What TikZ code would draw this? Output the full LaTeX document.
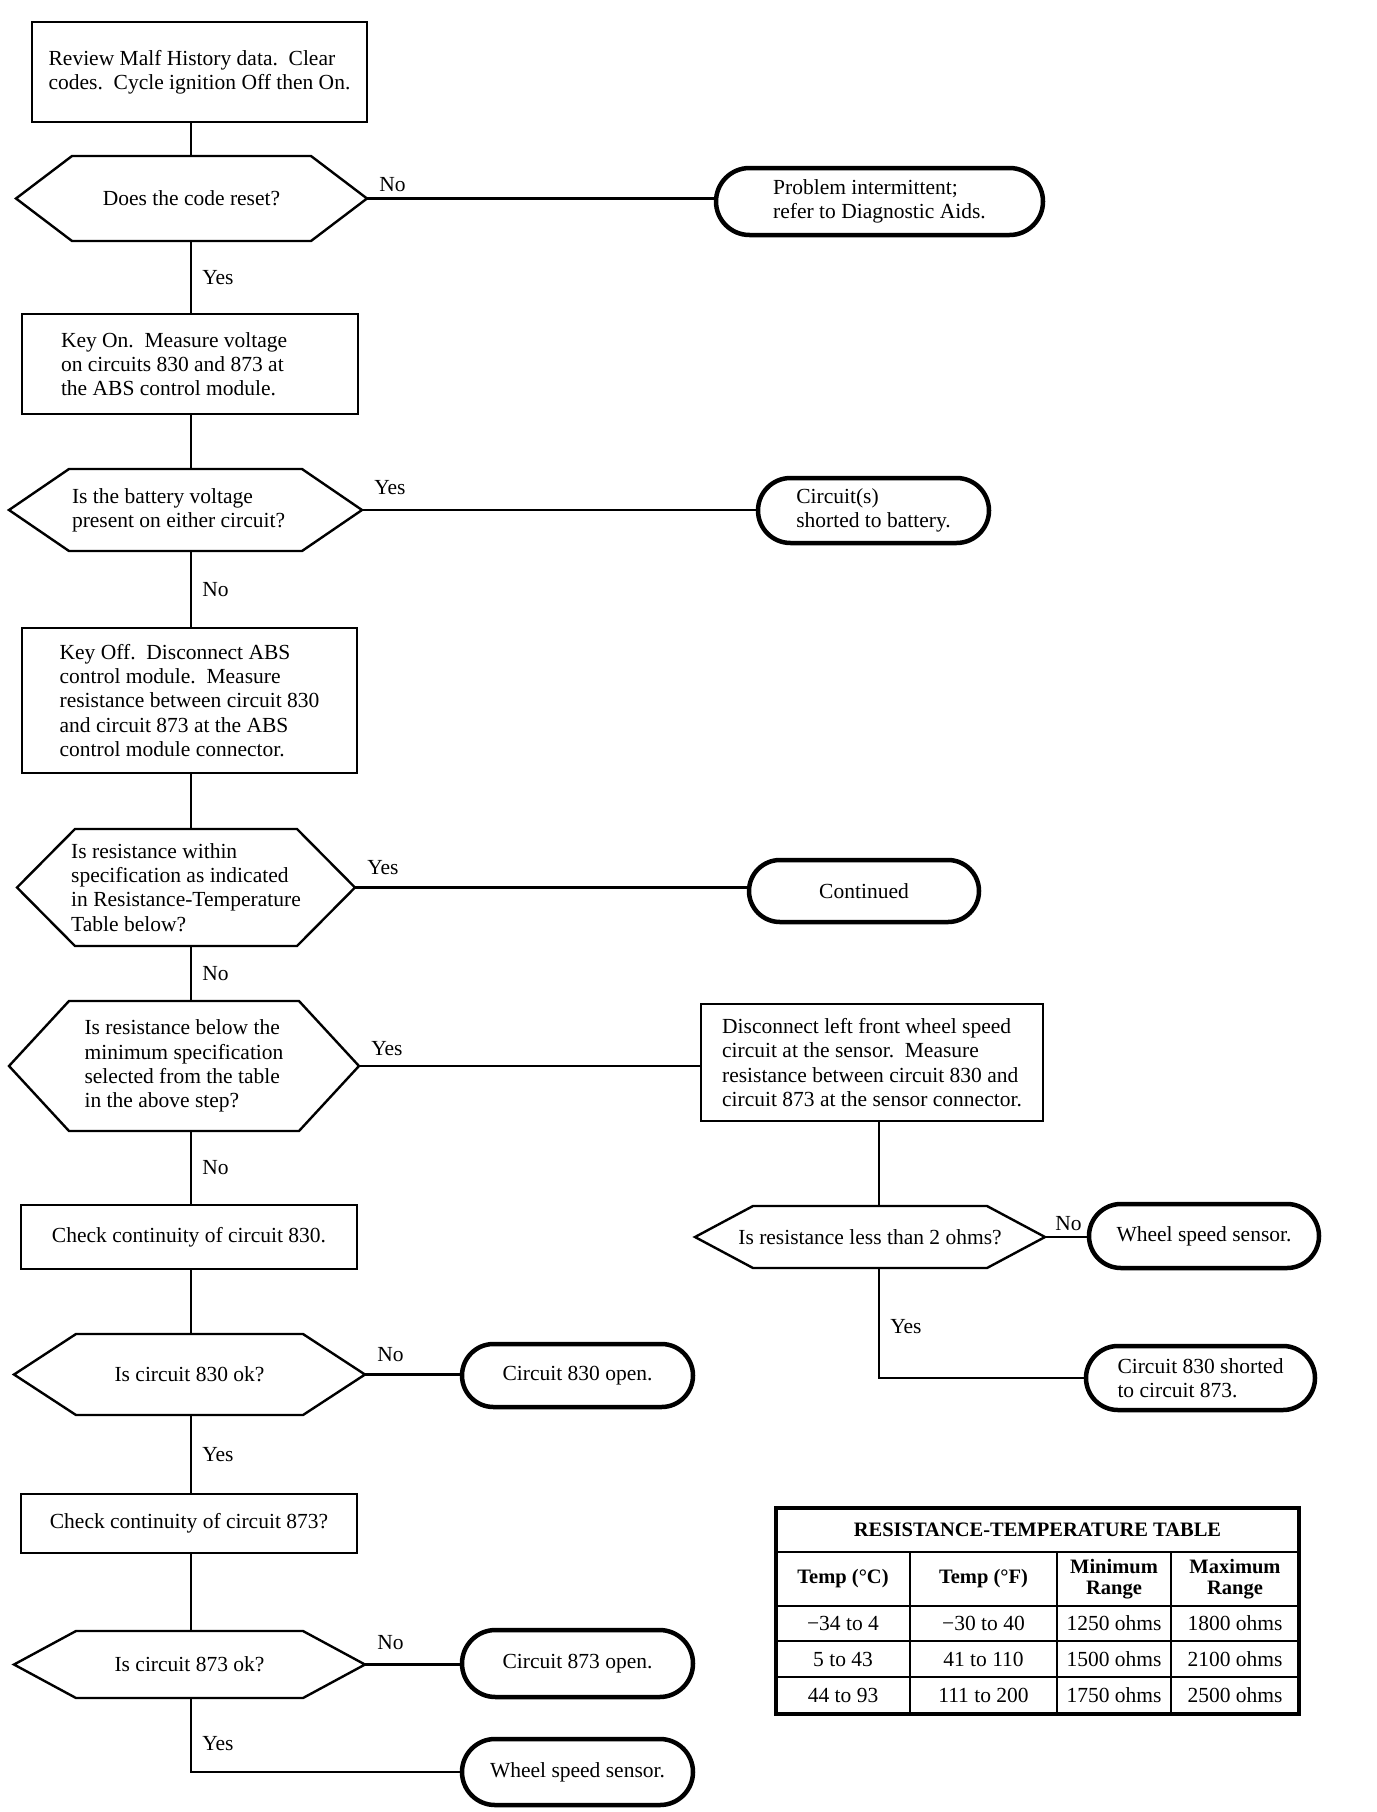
\documentclass[tikz,border=0pt]{standalone}
\usepackage{fontspec}
\setmainfont{Liberation Serif}
\usetikzlibrary{shapes.misc,calc}
\tikzset{
  every node/.style={font=\fontsize{21.5}{24.3}\selectfont},
  box/.style={draw, line width=2.4pt, rectangle, inner sep=0pt, outer sep=0pt, align=left},
  hexnode/.style={rectangle, inner sep=0pt, outer sep=0pt, align=left},
  hexline/.style={draw, line width=2.4pt, line join=miter},
  term/.style={draw, line width=4.5pt, rounded rectangle, inner sep=0pt, outer sep=0pt, align=left},
  conn/.style={line width=2.6pt},
  lbl/.style={inner sep=0pt},
  hlbl/.style={lbl, anchor=south west, xshift=11pt, yshift=12pt},
  vlbl/.style={lbl, anchor=west, xshift=10pt},
  cell/.style={draw, line width=2.6pt, rectangle, inner sep=0pt, outer sep=0pt, align=center},
  hcell/.style={cell, font=\bfseries\fontsize{20.5}{21}\selectfont},
}
\newcommand\hexpath[2]{\draw[hexline] (#1.west) -- ([xshift=#2pt]#1.north west) -- ([xshift=-#2pt]#1.north east) -- (#1.east) -- ([xshift=-#2pt]#1.south east) -- ([xshift=#2pt]#1.south west) -- cycle;}
\begin{document}
\begin{tikzpicture}[x=1pt,y=-1pt]
\useasboundingbox[fill=white] (0,0) rectangle (1376,1812);
\coordinate (spine) at (191,0);
\coordinate (spineR) at (879,0);

% main column
\node[box, minimum width=335pt, minimum height=100pt] (b1) at (199.5,72) {Review Malf History data.\ \ Clear\\codes.\ \ Cycle ignition Off then On.};
\node[hexnode, minimum width=351pt, minimum height=85pt] (h1) at (191.5,198.5) {Does the code reset?};
\node[box, minimum width=336pt, minimum height=100pt, text width=258pt, align=flush left] (b2) at (190,364) {Key On.\ \ Measure voltage\\on circuits 830 and 873 at\\the ABS control module.};
\node[hexnode, minimum width=353pt, minimum height=82pt, text width=227pt, align=flush left] (h2) at (185.5,510) {Is the battery voltage\\present on either circuit?};
\node[box, minimum width=335pt, minimum height=145pt] (b3) at (189.5,700.5) {Key Off.\ \ Disconnect ABS\\control module.\ \ Measure\\resistance between circuit 830\\and circuit 873 at the ABS\\control module connector.};
\node[hexnode, minimum width=338pt, minimum height=117pt] (h3) at (186,887.5) {Is resistance within\\specification as indicated\\in Resistance-Temperature\\Table below?};
\node[hexnode, minimum width=350pt, minimum height=130pt] (h4) at (184,1066) {Is resistance below the\\minimum specification\\selected from the table\\in the above step?};
\node[box, minimum width=336pt, minimum height=64pt] (b5) at (189,1237) {Check continuity of circuit 830.};
\node[hexnode, minimum width=351pt, minimum height=81pt] (h5) at (189.5,1374.5) {Is circuit 830 ok?};
\node[box, minimum width=336pt, minimum height=59pt] (b6) at (189,1523.5) {Check continuity of circuit 873?};
\node[hexnode, minimum width=351pt, minimum height=67pt] (h6) at (189.5,1664.5) {Is circuit 873 ok?};

\hexpath{h1}{56}
\hexpath{h2}{60}
\hexpath{h3}{58}
\hexpath{h4}{60}
\hexpath{h5}{62}
\hexpath{h6}{62}

% terminals
\node[term, minimum width=327pt, minimum height=67pt] (t1) at (879.5,201.5) {Problem intermittent;\\refer to Diagnostic Aids.};
\node[term, minimum width=231pt, minimum height=65pt] (t2) at (873.5,510.5) {Circuit(s)\\shorted to battery.};
\node[term, minimum width=230pt, minimum height=62pt] (t3) at (864,891) {Continued};
\node[term, minimum width=231pt, minimum height=63pt] (t4) at (577.5,1375.5) {Circuit 830 open.};
\node[term, minimum width=231pt, minimum height=67pt] (t5) at (577.5,1663.5) {Circuit 873 open.};
\node[term, minimum width=231pt, minimum height=66pt] (t6) at (577.5,1772) {Wheel speed sensor.};

% right branch
\node[box, minimum width=342pt, minimum height=117pt] (b4) at (872,1062.5) {Disconnect left front wheel speed\\circuit at the sensor.\ \ Measure\\resistance between circuit 830 and\\circuit 873 at the sensor connector.};
\node[hexnode, minimum width=350pt, minimum height=62pt] (h7) at (870,1237) {Is resistance less than 2 ohms?};
\hexpath{h7}{58}
\node[term, minimum width=230pt, minimum height=64pt] (t7) at (1204,1236) {Wheel speed sensor.};
\node[term, minimum width=229pt, minimum height=64pt] (t8) at (1200.5,1378) {Circuit 830 shorted\\to circuit 873.};

% connectors main column
\draw[conn] (b1.south -| spine) -- (h1.north -| spine);
\draw[conn] (h1.south -| spine) -- node[vlbl] {Yes} (b2.north -| spine);
\draw[conn] (b2.south -| spine) -- (h2.north -| spine);
\draw[conn] (h2.south -| spine) -- node[vlbl] {No} (b3.north -| spine);
\draw[conn] (b3.south -| spine) -- (h3.north -| spine);
\draw[conn] (h3.south -| spine) -- node[vlbl] {No} (h4.north -| spine);
\draw[conn] (h4.south -| spine) -- node[vlbl] {No} (b5.north -| spine);
\draw[conn] (b5.south -| spine) -- (h5.north -| spine);
\draw[conn] (h5.south -| spine) -- node[vlbl] {Yes} (b6.north -| spine);
\draw[conn] (b6.south -| spine) -- (h6.north -| spine);
\draw[conn] (h6.south -| spine) |- node[vlbl, pos=0.31] {Yes} (t6.west);

% horizontal connectors
\draw[conn] (h1.east) -- node[hlbl, pos=0, yshift=-7pt] {No} (h1.east -| t1.west);
\draw[conn] (h2.east) -- node[hlbl, pos=0, yshift=2pt] {Yes} (h2.east -| t2.west);
\draw[conn] (h3.east) -- node[hlbl, pos=0] {Yes} (h3.east -| t3.west);
\draw[conn] (h4.east) -- node[hlbl, pos=0, yshift=-3pt] {Yes} (h4.east -| b4.west);
\draw[conn] (h5.east) -- node[hlbl, pos=0] {No} (h5.east -| t4.west);
\draw[conn] (h6.east) -- node[hlbl, pos=0, yshift=2pt] {No} (h6.east -| t5.west);

% right branch connectors
\draw[conn] (b4.south -| spineR) -- (h7.north -| spineR);
\draw[conn] (h7.east) -- node[hlbl, pos=0, xshift=-2pt, yshift=-7pt] {No} (h7.east -| t7.west);
\draw[conn] (h7.south -| spineR) |- node[vlbl, pos=0.265] {Yes} (t8.west);

% table
\node[hcell, minimum width=523pt, minimum height=44pt] (tt) at (1037.5,1530) {RESISTANCE-TEMPERATURE TABLE};
\node[hcell, minimum width=134pt, minimum height=54pt] (c11) at (843,1579) {Temp (°C)};
\node[hcell, minimum width=147pt, minimum height=54pt] (c12) at (983.5,1579) {Temp (°F)};
\node[hcell, minimum width=114pt, minimum height=54pt] (c13) at (1114,1579) {Minimum\\Range};
\node[hcell, minimum width=128pt, minimum height=54pt] (c14) at (1235,1579) {Maximum\\Range};
\node[cell, minimum width=134pt, minimum height=35pt] (c21) at (843,1623.5) {−34 to 4};
\node[cell, minimum width=147pt, minimum height=35pt] (c22) at (983.5,1623.5) {−30 to 40};
\node[cell, minimum width=114pt, minimum height=35pt] (c23) at (1114,1623.5) {1250 ohms};
\node[cell, minimum width=128pt, minimum height=35pt] (c24) at (1235,1623.5) {1800 ohms};
\node[cell, minimum width=134pt, minimum height=36pt] (c31) at (843,1659) {5 to 43};
\node[cell, minimum width=147pt, minimum height=36pt] (c32) at (983.5,1659) {41 to 110};
\node[cell, minimum width=114pt, minimum height=36pt] (c33) at (1114,1659) {1500 ohms};
\node[cell, minimum width=128pt, minimum height=36pt] (c34) at (1235,1659) {2100 ohms};
\node[cell, minimum width=134pt, minimum height=37pt] (c41) at (843,1695.5) {44 to 93};
\node[cell, minimum width=147pt, minimum height=37pt] (c42) at (983.5,1695.5) {111 to 200};
\node[cell, minimum width=114pt, minimum height=37pt] (c43) at (1114,1695.5) {1750 ohms};
\node[cell, minimum width=128pt, minimum height=37pt] (c44) at (1235,1695.5) {2500 ohms};
\draw[line width=4pt] (tt.north west) rectangle (c44.south east);
\end{tikzpicture}
\end{document}
